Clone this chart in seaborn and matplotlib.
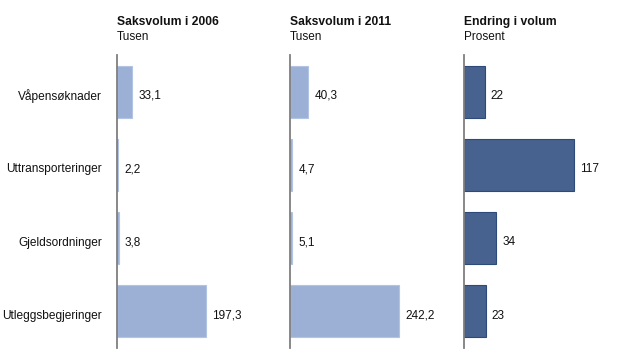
import pandas as pd
import seaborn as sns
import matplotlib.pyplot as plt
import matplotlib.transforms as mtrans

kategorier = ["Våpensøknader", "Uttransporteringer", "Gjeldsordninger", "Utleggsbegjeringer"]
volum_2006 = [33.1, 2.2, 3.8, 197.3]
volum_2011 = [40.3, 4.7, 5.1, 242.2]
endring = [22, 117, 34, 23]

titler = ["Saksvolum i 2006", "Saksvolum i 2011", "Endring i volum"]
enheter = ["Tusen", "Tusen", "Prosent"]

df = pd.DataFrame({"kategori": kategorier, "v2006": volum_2006,
                   "v2011": volum_2011, "endring": endring})

sns.set_style("white")
plt.rcParams['font.family'] = ['Liberation Sans', 'DejaVu Sans']
plt.rcParams['text.color'] = '#111111'
plt.rcParams['ytick.color'] = '#111111'

lys = "#9cb0d6"
mork = "#47628f"

fig = plt.figure(figsize=(6.2, 3.63), dpi=100)
ax1 = fig.add_axes([0.1887, 0.0413, 0.258, 0.807])
ax2 = fig.add_axes([0.4677, 0.0413, 0.258, 0.807])
ax3 = fig.add_axes([0.7484, 0.0413, 0.242, 0.807])

oppsett = [(ax1, "v2006", lys, "#b3c3e3", 355, volum_2006, True),
           (ax2, "v2011", lys, "#b3c3e3", 355, volum_2011, True),
           (ax3, "endring", mork, "#2e4a7a", 160, endring, False)]

for i, (ax, kol, farge, kant, xmax, verdier, desimal) in enumerate(oppsett):
    sns.barplot(data=df, y="kategori", x=kol, color=farge, ax=ax,
                width=0.71, edgecolor=kant, linewidth=0.8, saturation=1)
    ax.set_xlim(0, xmax)
    ax.set_ylim(3.5, -0.5)
    if desimal:
        tekst = [f"{v:.1f}".replace(".", ",") for v in verdier]
    else:
        tekst = [str(v) for v in verdier]
    etiketter = ax.bar_label(ax.containers[0], labels=tekst, padding=4, fontsize=8.5)
    for t in etiketter:
        t.xyann = (4.5, -3)
    ax.set_xlabel("")
    ax.set_ylabel("")
    ax.set_xticks([])
    for s in ["top", "right", "bottom"]:
        ax.spines[s].set_visible(False)
    ax.spines["left"].set_color("#7f7f7f")
    ax.spines["left"].set_linewidth(1.3)
    if i == 0:
        ax.tick_params(axis="y", length=0, pad=11, labelsize=8.6)
        flytt = mtrans.ScaledTranslation(0, -3 / 100, fig.dpi_scale_trans)
        for lab in ax.get_yticklabels():
            lab.set_transform(lab.get_transform() + flytt)
    else:
        ax.set_yticks([])
    ax.text(0, 1.112, titler[i], transform=ax.transAxes, fontsize=8.7,
            fontweight="bold", ha="left", va="center")
    ax.text(0, 1.060, enheter[i], transform=ax.transAxes, fontsize=8.5,
            ha="left", va="center")

plt.savefig("out.png", dpi=100)
